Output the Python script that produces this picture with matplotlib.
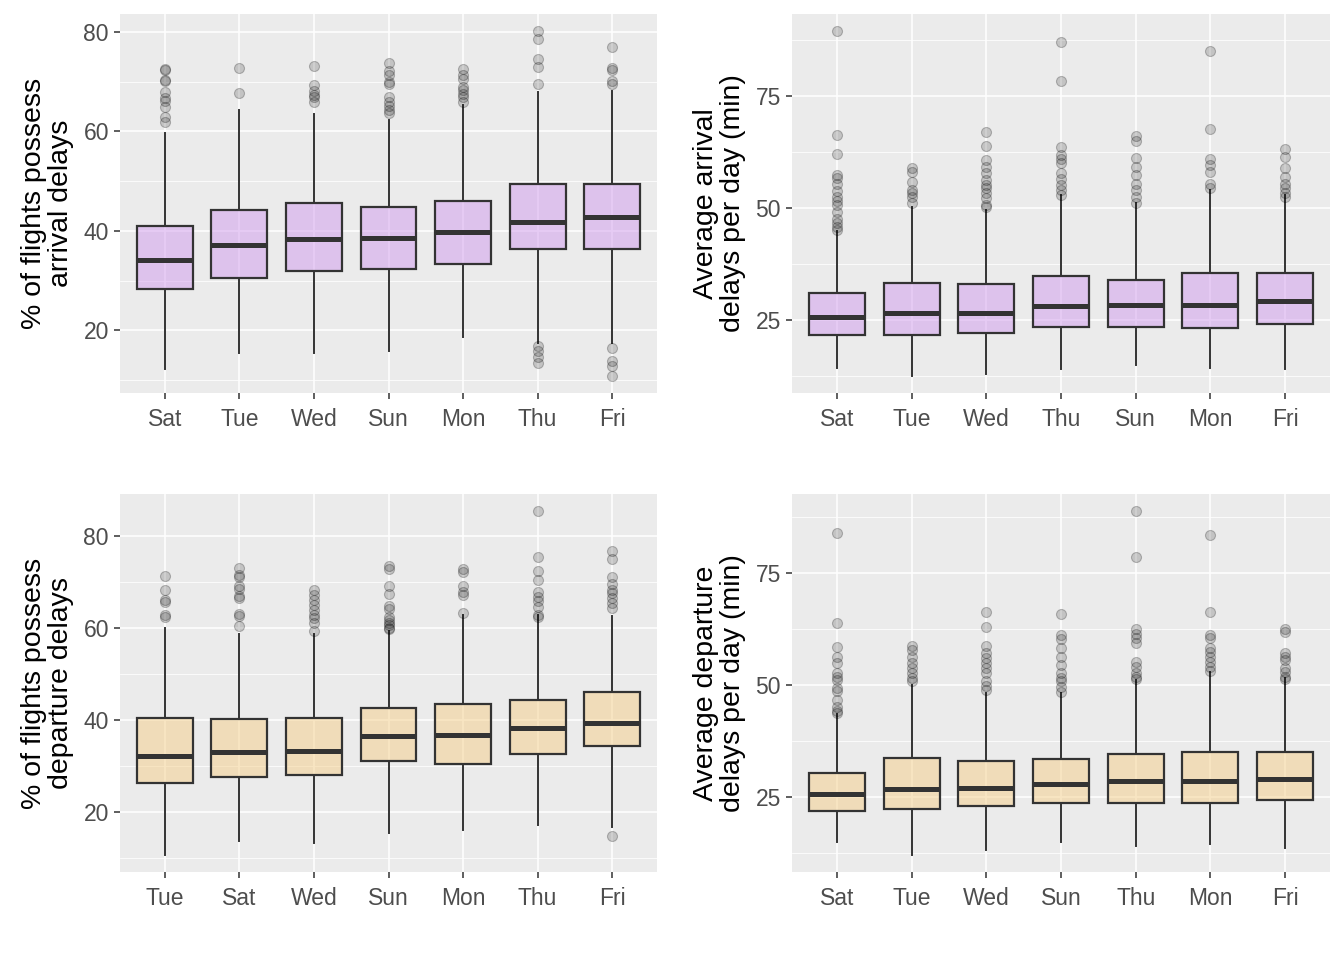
import matplotlib

matplotlib.use("Agg")

import matplotlib.pyplot as plt
from matplotlib.ticker import FixedLocator


# top left: % of flights with arrival delays
ARR_PCT_DAYS = ["Sat", "Tue", "Wed", "Sun", "Mon", "Thu", "Fri"]
ARR_PCT_LO = [12.3, 15.5, 15.5, 15.9, 18.6, 17.5, 17.5]
ARR_PCT_Q1 = [28.4, 30.6, 31.9, 32.4, 33.3, 36.4, 36.4]
ARR_PCT_MED = [34.1, 37.1, 38.3, 38.5, 39.7, 41.7, 42.7]
ARR_PCT_Q3 = [40.9, 44.1, 45.6, 44.7, 46.1, 49.4, 49.5]
ARR_PCT_HI = [59.6, 64.3, 63.5, 62.3, 65.3, 67.8, 68.1]
ARR_PCT_OUT = [
    [72.6, 72.3, 70.3, 70.2, 67.8, 66.7, 66.1, 64.9, 62.8, 61.8],
    [72.8, 67.7],
    [73.1, 69.3, 68.1, 67.3, 66.8, 65.9],
    [73.7, 72.1, 71.3, 69.9, 69.5, 66.8, 65.8, 65.1, 64.3, 63.7],
    [72.5, 71.3, 70.5, 68.9, 68.3, 67.5, 66.8, 65.9],
    [80.1, 78.5, 74.6, 72.9, 69.6, 16.8, 15.8, 14.6, 13.5],
    [76.9, 72.8, 72.3, 70.1, 69.5, 16.4, 13.8, 12.8, 10.9],
]

# top right: average arrival delay per day
ARR_AVG_DAYS = ["Sat", "Tue", "Wed", "Thu", "Sun", "Mon", "Fri"]
ARR_AVG_LO = [14.3, 12.5, 12.9, 14.1, 15.0, 14.3, 14.1]
ARR_AVG_Q1 = [21.7, 21.7, 22.1, 23.4, 23.4, 23.1, 24.0]
ARR_AVG_MED = [25.6, 26.4, 26.6, 28.0, 28.3, 28.4, 29.2]
ARR_AVG_Q3 = [31.0, 33.2, 33.0, 34.7, 33.8, 35.4, 35.4]
ARR_AVG_HI = [44.8, 50.2, 49.5, 52.8, 51.0, 53.9, 52.8]
ARR_AVG_OUT = [
    [89.4, 66.2, 62.0, 57.4, 56.7, 55.2, 53.8, 52.5, 51.5, 50.6, 49.1, 47.6, 46.7, 45.8, 45.0],
    [58.8, 58.0, 55.8, 53.9, 53.2, 52.5, 51.0],
    [67.0, 63.8, 60.6, 59.2, 57.7, 56.2, 55.1, 54.3, 53.2, 52.1, 50.7, 50.2],
    [87.1, 78.3, 63.6, 61.8, 60.8, 59.9, 57.8, 56.5, 55.1, 53.9, 52.8],
    [66.0, 65.0, 61.2, 59.2, 57.3, 55.2, 53.9, 52.5, 51.0],
    [85.0, 67.5, 60.9, 59.5, 58.0, 55.4, 54.5],
    [63.2, 61.4, 58.8, 56.9, 55.4, 54.3, 53.2, 52.5],
]

# bottom left: % of flights with departure delays
DEP_PCT_DAYS = ["Tue", "Sat", "Wed", "Sun", "Mon", "Thu", "Fri"]
DEP_PCT_LO = [10.8, 13.8, 13.4, 15.6, 16.2, 17.3, 16.8]
DEP_PCT_Q1 = [26.5, 27.7, 28.1, 31.3, 30.6, 32.8, 34.4]
DEP_PCT_MED = [32.3, 33.1, 33.4, 36.7, 36.9, 38.3, 39.4]
DEP_PCT_Q3 = [40.6, 40.4, 40.6, 42.7, 43.6, 44.5, 46.1]
DEP_PCT_HI = [60.1, 58.9, 58.8, 59.4, 62.9, 62.9, 62.7]
DEP_PCT_OUT = [
    [71.4, 68.4, 66.1, 65.8, 63.0, 62.5],
    [73.2, 71.7, 71.3, 69.2, 68.5, 67.1, 66.7, 63.2, 62.7, 60.5],
    [68.4, 67.2, 66.1, 65.1, 64.0, 62.9, 62.2, 61.2, 59.5],
    [73.5, 73.0, 69.2, 67.4, 64.9, 64.2, 62.4, 61.8, 61.2, 60.7, 60.2, 59.8],
    [73.0, 72.3, 69.2, 67.9, 67.2, 63.4],
    [85.5, 75.5, 72.6, 70.5, 67.9, 66.9, 66.0, 64.7, 63.0, 62.5],
    [76.8, 75.2, 71.2, 69.6, 68.4, 67.7, 66.7, 65.6, 64.5, 14.9],
]

# bottom right: average departure delay per day
DEP_AVG_DAYS = ["Sat", "Tue", "Wed", "Sun", "Thu", "Mon", "Fri"]
DEP_AVG_LO = [14.9, 12.1, 13.2, 15.0, 14.1, 14.6, 13.7]
DEP_AVG_Q1 = [21.8, 22.4, 22.9, 23.7, 23.7, 23.7, 24.3]
DEP_AVG_MED = [25.6, 26.9, 27.1, 28.0, 28.5, 28.5, 29.1]
DEP_AVG_Q3 = [30.3, 33.7, 33.1, 33.4, 34.7, 35.1, 35.0]
DEP_AVG_HI = [43.5, 50.0, 48.2, 48.2, 51.1, 53.0, 51.5]
DEP_AVG_OUT = [
    [83.9, 63.9, 58.4, 56.2, 55.0, 52.6, 51.7, 51.1, 49.3, 48.6, 46.7, 45.2, 44.1, 43.7],
    [58.8, 57.8, 56.3, 54.9, 53.7, 52.6, 51.5, 50.8],
    [66.2, 62.9, 58.6, 57.1, 56.0, 54.9, 53.7, 52.6, 50.8, 49.7, 48.8],
    [65.8, 61.1, 60.2, 58.2, 56.3, 54.5, 52.6, 51.5, 50.8, 49.5, 48.4],
    [88.8, 78.6, 62.4, 61.4, 60.4, 59.3, 55.2, 54.1, 52.6, 51.9, 51.3],
    [83.5, 66.3, 61.1, 60.4, 58.2, 57.4, 56.3, 55.2, 54.1, 53.2],
    [62.5, 61.9, 57.1, 56.3, 55.6, 53.7, 53.0, 51.9, 51.3],
]

PURPLE = "#D19BED"
BEIGE = "#F5CF89"
PANEL_BG = "#EBEBEB"
DARK = "#333333"

plt.rcParams["font.family"] = ["Liberation Sans", "DejaVu Sans"]


def build_stats(lo, q1, med, q3, hi, outliers):
    return [
        {"whislo": a, "q1": b, "med": c, "q3": d, "whishi": e, "fliers": f}
        for a, b, c, d, e, f in zip(lo, q1, med, q3, hi, outliers)
    ]


def draw_panel(ax, days, stats, fill, ylabel, major, minor):
    ax.set_facecolor(PANEL_BG)
    for side in ax.spines.values():
        side.set_visible(False)
    ax.set_axisbelow(True)

    positions = list(range(1, len(days) + 1))
    parts = ax.bxp(
        stats,
        positions=positions,
        widths=0.75,
        patch_artist=True,
        showcaps=False,
        boxprops={"facecolor": fill, "edgecolor": DARK, "linewidth": 1.6},
        medianprops={"color": DARK, "linewidth": 3.6, "solid_capstyle": "butt"},
        whiskerprops={"color": DARK, "linewidth": 1.4},
        flierprops={
            "marker": "o",
            "markersize": 7.2,
            "markerfacecolor": (0, 0, 0, 0.17),
            "markeredgecolor": (0, 0, 0, 0.24),
            "markeredgewidth": 0.8,
            "linestyle": "none",
        },
    )
    for box in parts["boxes"]:
        box.set_facecolor(matplotlib.colors.to_rgba(fill, 0.5))

    values = []
    for s in stats:
        values += [s["whislo"], s["whishi"]] + list(s["fliers"])
    span = max(values) - min(values)
    ax.set_ylim(min(values) - 0.05 * span, max(values) + 0.05 * span)
    ax.set_xlim(0.4, len(days) + 0.6)

    ax.yaxis.set_major_locator(FixedLocator(major))
    ax.yaxis.set_minor_locator(FixedLocator(minor))
    ax.set_xticks(positions)
    ax.set_xticklabels(days)

    ax.grid(which="major", color="white", linewidth=1.1)
    ax.grid(which="minor", axis="y", color="white", linewidth=0.55)
    ax.tick_params(which="major", length=4, width=1.1, color=DARK,
                   labelsize=16.5, labelcolor="#4D4D4D")
    ax.tick_params(axis="x", pad=7)
    ax.tick_params(axis="y", pad=4)
    ax.tick_params(which="minor", length=0)
    ax.set_ylabel(ylabel, fontsize=20.5, color="black", linespacing=1.05, labelpad=7)


fig = plt.figure(figsize=(13.44, 9.6), dpi=100)
W, H = 1344, 960


def panel_axes(x0, x1, y0, y1):
    return fig.add_axes([x0 / W, 1 - y1 / H, (x1 - x0) / W, (y1 - y0) / H])


ax1 = panel_axes(120, 657, 14, 393)
ax2 = panel_axes(792, 1330, 14, 393)
ax3 = panel_axes(120, 657, 494, 872)
ax4 = panel_axes(792, 1330, 494, 872)

draw_panel(ax1, ARR_PCT_DAYS,
           build_stats(ARR_PCT_LO, ARR_PCT_Q1, ARR_PCT_MED, ARR_PCT_Q3, ARR_PCT_HI, ARR_PCT_OUT),
           PURPLE, "% of flights possess\narrival delays",
           [20, 40, 60, 80], [10, 30, 50, 70])
draw_panel(ax2, ARR_AVG_DAYS,
           build_stats(ARR_AVG_LO, ARR_AVG_Q1, ARR_AVG_MED, ARR_AVG_Q3, ARR_AVG_HI, ARR_AVG_OUT),
           PURPLE, "Average arrival\ndelays per day (min)",
           [25, 50, 75], [12.5, 37.5, 62.5, 87.5])
draw_panel(ax3, DEP_PCT_DAYS,
           build_stats(DEP_PCT_LO, DEP_PCT_Q1, DEP_PCT_MED, DEP_PCT_Q3, DEP_PCT_HI, DEP_PCT_OUT),
           BEIGE, "% of flights possess\ndeparture delays",
           [20, 40, 60, 80], [10, 30, 50, 70])
draw_panel(ax4, DEP_AVG_DAYS,
           build_stats(DEP_AVG_LO, DEP_AVG_Q1, DEP_AVG_MED, DEP_AVG_Q3, DEP_AVG_HI, DEP_AVG_OUT),
           BEIGE, "Average departure\ndelays per day (min)",
           [25, 50, 75], [12.5, 37.5, 62.5, 87.5])

fig.savefig("out.png", dpi=100)
